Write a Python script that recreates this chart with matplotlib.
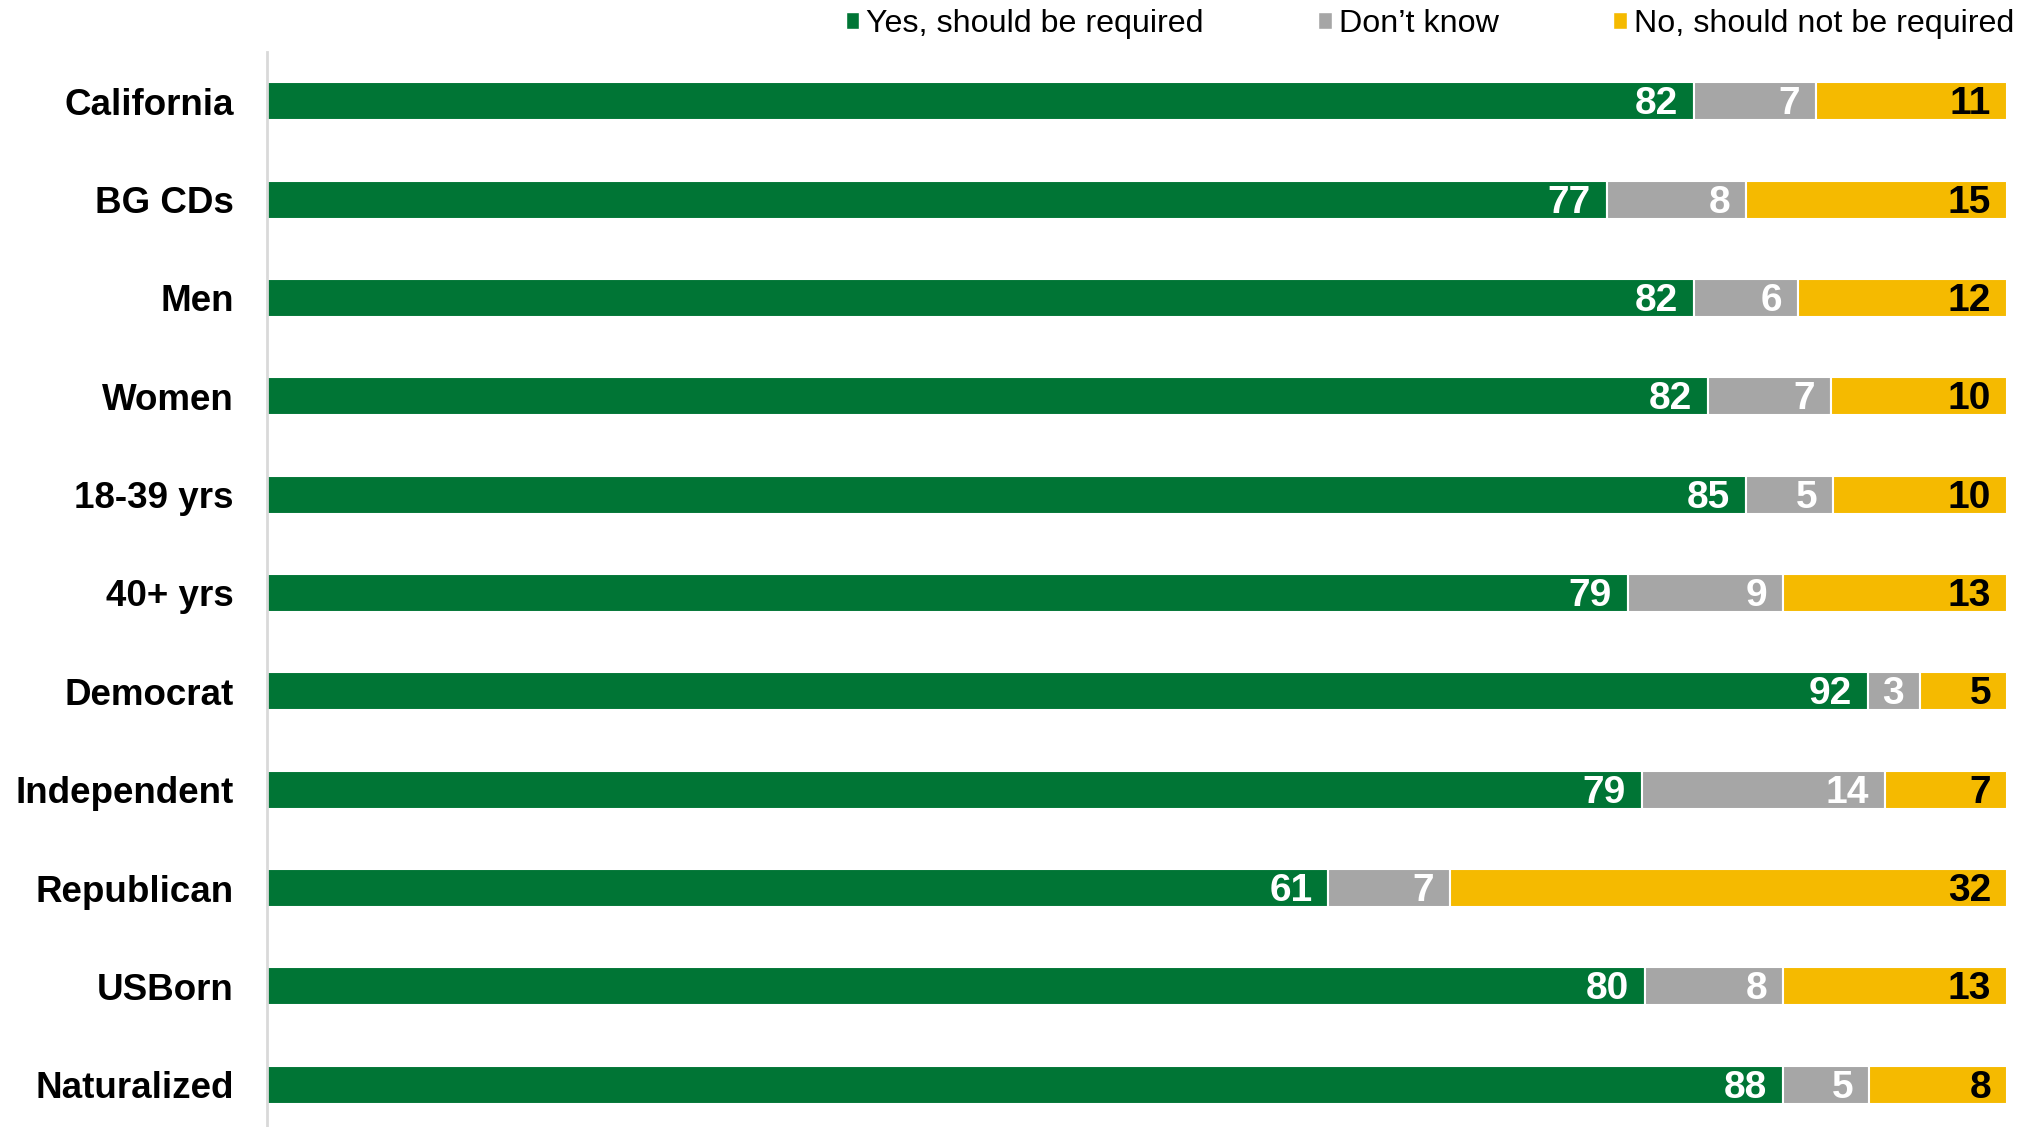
import matplotlib
matplotlib.use("Agg")
import matplotlib.pyplot as plt
from matplotlib.patches import Patch
import numpy as np

plt.rcParams['font.family'] = ['Liberation Sans', 'DejaVu Sans']

groups = ["California", "BG CDs", "Men", "Women", "18-39 yrs", "40+ yrs",
          "Democrat", "Independent", "Republican", "USBorn", "Naturalized"]
yes_vals = [82, 77, 82, 82, 85, 79, 92, 79, 61, 80, 88]
dk_vals = [7, 8, 6, 7, 5, 9, 3, 14, 7, 8, 5]
no_vals = [11, 15, 12, 10, 10, 13, 5, 7, 32, 13, 8]

series_names = ["Yes, should be required", "Don\u2019t know", "No, should not be required"]
colors = ["#007535", "#A6A6A6", "#F5BA00"]
label_colors = ["white", "white", "black"]

data = np.array([yes_vals, dk_vals, no_vals], dtype=float)
# bars all run to the full width, so scale each row to 100
widths = data / data.sum(axis=0) * 100

fig = plt.figure(figsize=(20.3, 11.27), dpi=100)
ax = fig.add_axes([267 / 2030, 0, 1740 / 2030, 1 - 52 / 1127])

y = np.arange(len(groups))
left = np.zeros(len(groups))
for i in range(3):
    bars = ax.barh(y, widths[i], left=left, height=0.386, color=colors[i],
                   edgecolor="white", linewidth=1.5, label=series_names[i])
    for j, b in enumerate(bars):
        ax.annotate(str(int(data[i][j])), xy=(left[j] + widths[i][j], y[j]),
                    xytext=(-16, -3), textcoords="offset pixels",
                    ha="right", va="center", fontsize=28, fontweight="bold",
                    color=label_colors[i])
    left = left + widths[i]

ax.set_xlim(0, 100)
ax.set_ylim(10.43, -0.5)
ax.set_yticks(y)
ax.set_yticklabels(groups, fontsize=26.5, fontweight="bold")
ax.tick_params(axis="y", length=0, pad=24)
ax.set_xticks([])
for s in ["top", "right", "bottom"]:
    ax.spines[s].set_visible(False)
ax.spines["left"].set_color("#D9D9D9")
ax.spines["left"].set_linewidth(2)

handles = [Patch(facecolor=c, edgecolor="white") for c in colors]
fig.legend(handles, series_names, loc="center right",
           bbox_to_anchor=(2014 / 2030, 1 - 24 / 1127), ncol=3, frameon=False,
           fontsize=23.2, handlelength=0.42, handleheight=0.42, handletextpad=0.22,
           columnspacing=3.55, borderpad=0, borderaxespad=0)

fig.savefig("out.png", dpi=100)
